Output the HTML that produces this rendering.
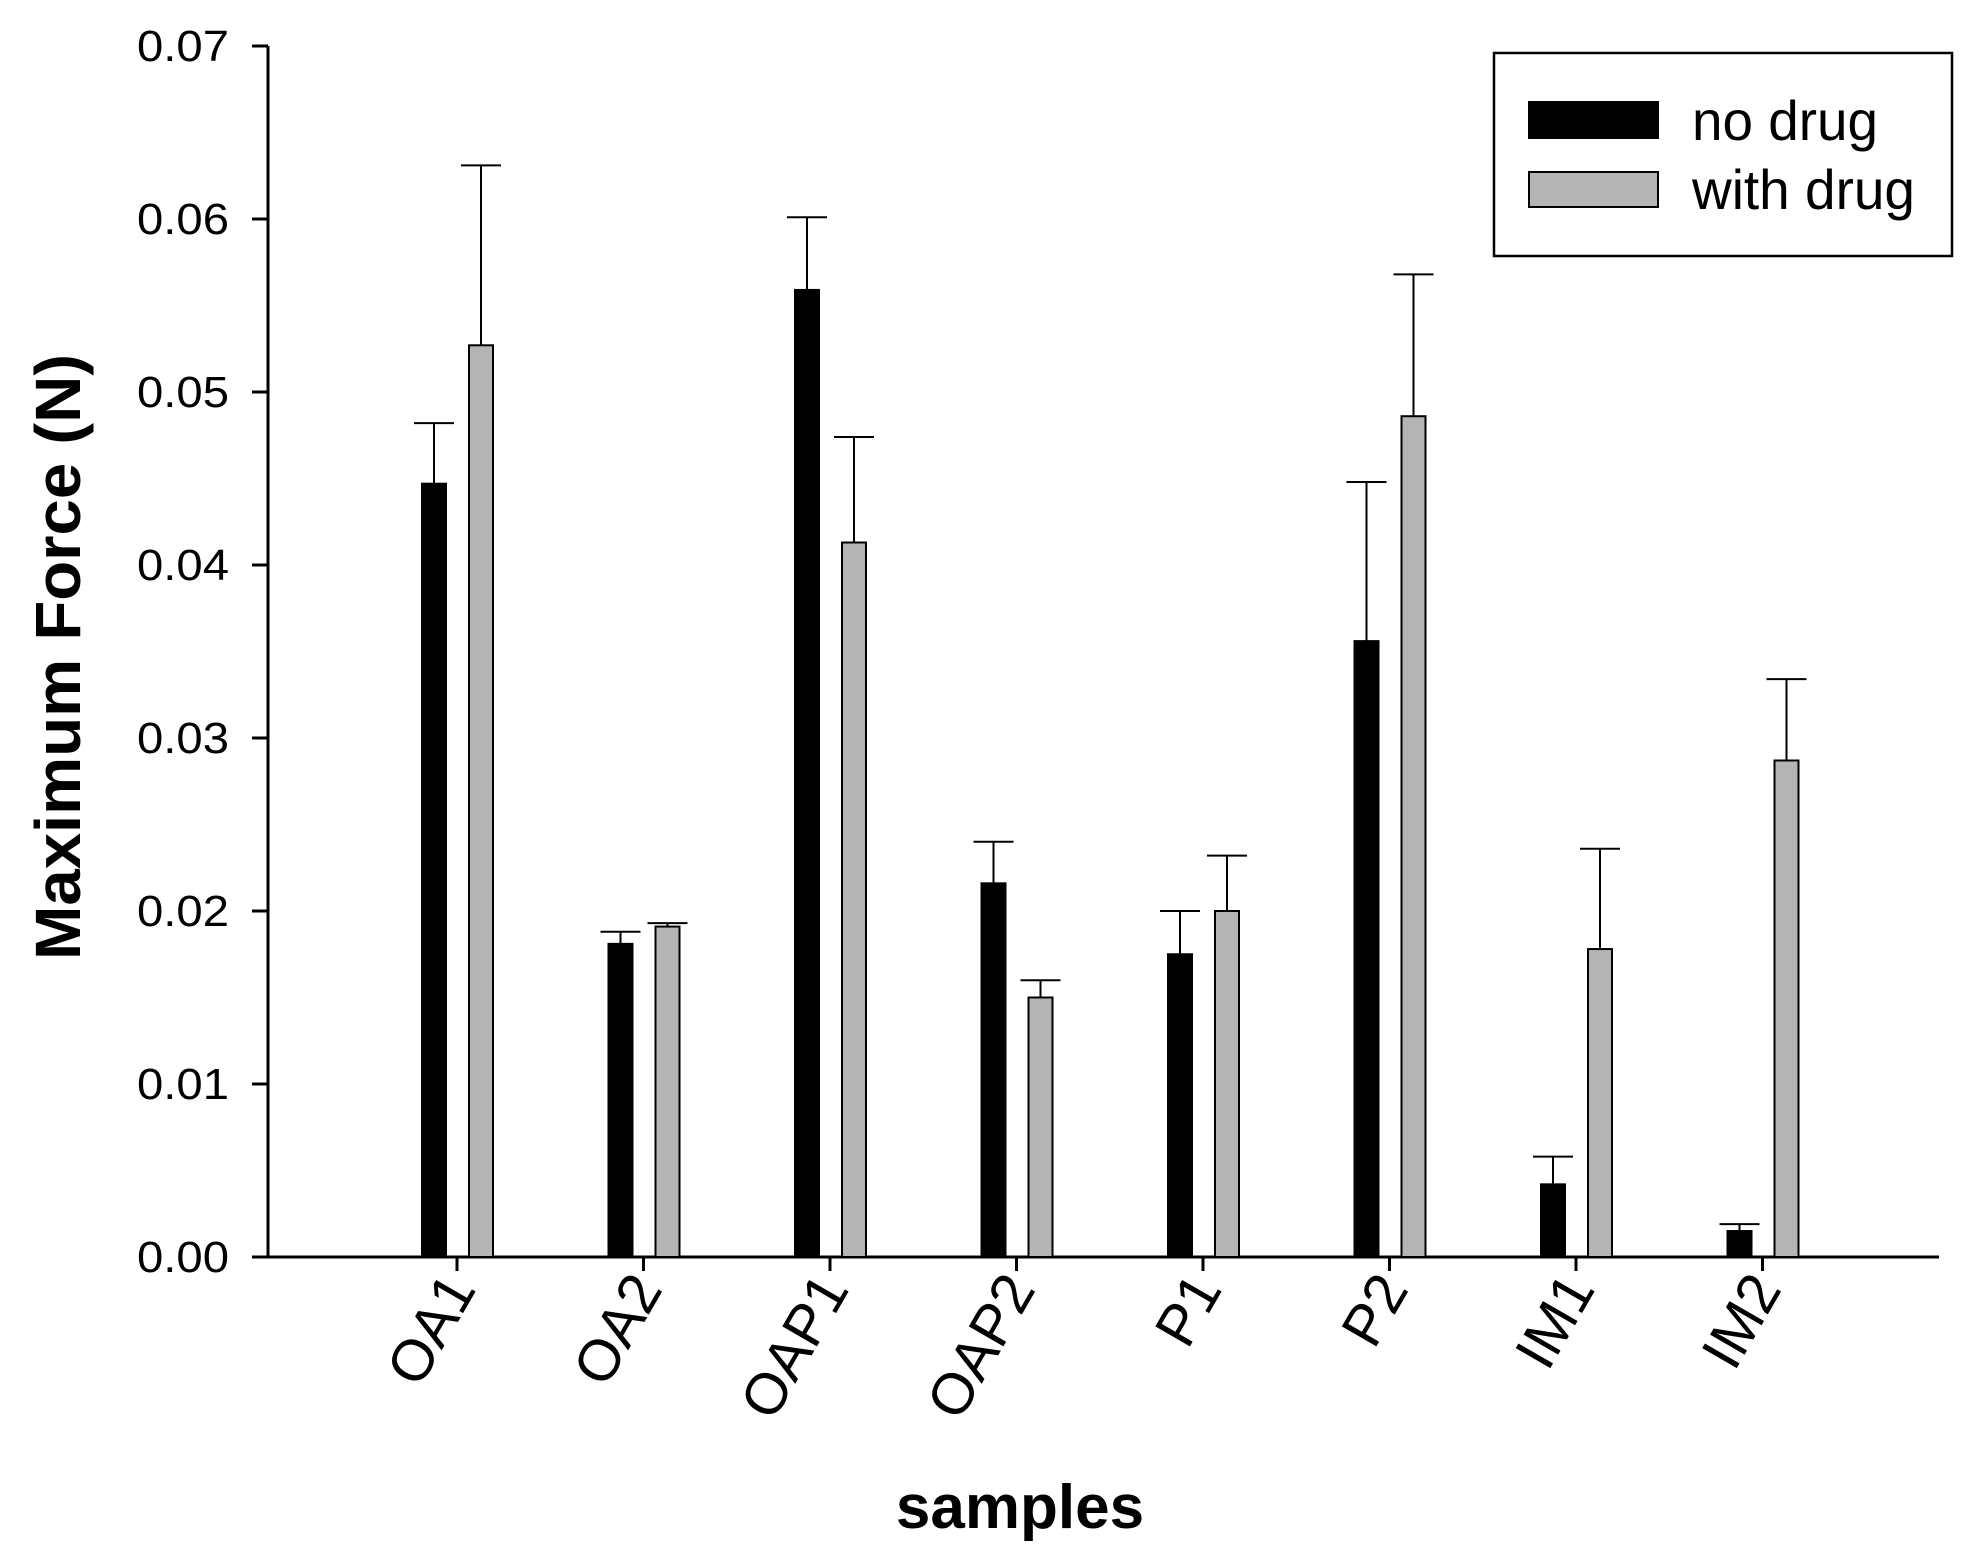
<!DOCTYPE html>
<html><head><meta charset="utf-8"><style>html,body{margin:0;padding:0;background:#fff}</style></head>
<body>
<svg width="1981" height="1550" viewBox="0 0 1981 1550" xmlns="http://www.w3.org/2000/svg" font-family="Liberation Sans, Arial, sans-serif">
<rect width="1981" height="1550" fill="#fff"/>
<g id="chart"></g>
<script>
const g=document.getElementById('chart');
const ns='http://www.w3.org/2000/svg';
function el(t,a,txt){const e=document.createElementNS(ns,t);for(const k in a)e.setAttribute(k,a[k]);if(txt!==undefined)e.textContent=txt;g.appendChild(e);return e;}
const x0=268,xE=1939,y0=1257,yT=46;
const Y=v=>y0-(y0-yT)*v/0.07;
el('line',{x1:x0,y1:yT,x2:x0,y2:y0+1,stroke:'#000','stroke-width':3});
el('line',{x1:252,y1:y0,x2:xE,y2:y0,stroke:'#000','stroke-width':3});
for(let i=0;i<=7;i++){const y=Y(i*0.01);
 el('line',{x1:252,y1:y,x2:x0,y2:y,stroke:'#000','stroke-width':3});
 el('text',{x:229,y:y+15,'text-anchor':'end','font-size':44,textLength:92,lengthAdjust:'spacingAndGlyphs'},(i/100).toFixed(2));}
const cats=['OA1','OA2','OAP1','OAP2','P1','P2','IM1','IM2'];
const d=[[0.0447,0.0482,0.0527,0.0631],[0.0181,0.0188,0.0191,0.0193],[0.0559,0.0601,0.0413,0.0474],[0.0216,0.0240,0.0150,0.0160],[0.0175,0.0200,0.0200,0.0232],[0.0356,0.0448,0.0486,0.0568],[0.0042,0.0058,0.0178,0.0236],[0.0015,0.0019,0.0287,0.0334]];
cats.forEach((c,i)=>{const cx=457+i*186.5;
 el('line',{x1:cx,y1:y0,x2:cx,y2:y0+14,stroke:'#000','stroke-width':3});
 [[-23,'#000',0],[24,'#b4b4b4',2]].forEach(([o,f,k])=>{const v=d[i][k],e=d[i][k+1];const bx=cx+o;
  el('line',{x1:bx,y1:Y(e),x2:bx,y2:Y(v),stroke:'#000','stroke-width':2});
  el('line',{x1:bx-20,y1:Y(e),x2:bx+20,y2:Y(e),stroke:'#000','stroke-width':2});
  el('rect',{x:bx-12,y:Y(v),width:24,height:y0-Y(v),fill:f,stroke:'#000','stroke-width':2});});
 el('text',{x:cx+20,y:y0+32,'text-anchor':'end','font-size':58,transform:`rotate(-60 ${cx+20} ${y0+32})`},c);
});
el('rect',{x:1494,y:53,width:458,height:203,fill:'none',stroke:'#000','stroke-width':2.5});
el('rect',{x:1529,y:102,width:129,height:36,fill:'#000',stroke:'#000','stroke-width':2});
el('rect',{x:1529,y:172,width:129,height:35,fill:'#b4b4b4',stroke:'#000','stroke-width':2});
el('text',{x:1692,y:140,'font-size':56,textLength:186,lengthAdjust:'spacingAndGlyphs'},'no drug');
el('text',{x:1692,y:209,'font-size':56,textLength:223,lengthAdjust:'spacingAndGlyphs'},'with drug');
el('text',{x:1020,y:1528,'text-anchor':'middle','font-size':62,'font-weight':'bold'},'samples');
el('text',{x:0,y:0,'text-anchor':'middle','font-size':64,'font-weight':'bold',textLength:606,lengthAdjust:'spacingAndGlyphs',transform:'translate(80 657) rotate(-90)'},'Maximum Force (N)');
</script>
</svg>
</body></html>
